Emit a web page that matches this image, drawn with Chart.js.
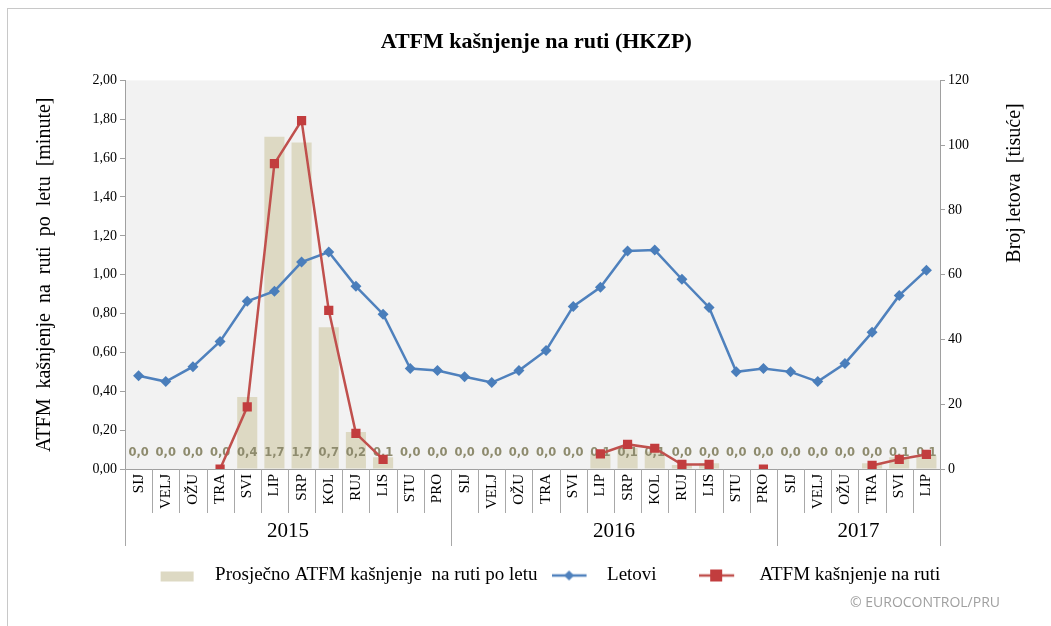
<!DOCTYPE html>
<html>
<head>
<meta charset="utf-8">
<script src="https://cdn.jsdelivr.net/npm/chart.js@4"></script>
<style>
  body { margin: 0; background: #fff; }
  #wrap { position: relative; width: 1051px; height: 626px; }
  #frame { position: absolute; left: 7px; top: 8px; right: 0; bottom: 0; border-left: 1px solid #c8c8c8; border-top: 1px solid #c8c8c8; pointer-events: none; }
</style>
</head>
<body>
<div id="wrap">
  <canvas id="chart" width="1051" height="626"></canvas>
  <div id="frame"></div>
</div>
<script>
const months = ['SIJ', 'VELJ', 'OŽU', 'TRA', 'SVI', 'LIP', 'SRP', 'KOL', 'RUJ', 'LIS', 'STU', 'PRO'];
const years = ['2015', '2016', '2017'];
const monthsPerYear = [12, 12, 6];

// average en-route ATFM delay per flight [minutes]
const avgDelay = [0, 0, 0, 0, 0.37, 1.71, 1.68, 0.73, 0.19, 0.06, 0, 0,
                  0, 0, 0, 0, 0, 0.08, 0.11, 0.09, 0.02, 0.03, 0, 0,
                  0, 0, 0, 0.03, 0.06, 0.07];
// flights [thousands]
const flights = [28.8, 27, 31.6, 39.4, 51.8, 54.9, 63.9, 67, 56.4, 47.8, 31, 30.4,
                 28.5, 26.7, 30.4, 36.6, 50.2, 56.1, 67.3, 67.6, 58.6, 49.9, 30, 31,
                 30, 27, 32.6, 42.2, 53.6, 61.4];
// en-route ATFM delay [thousand minutes]
const delay = [null, null, null, 0, 19.2, 94.3, 107.6, 49, 11, 3, null, null,
               null, null, null, null, null, 4.7, 7.6, 6.4, 1.4, 1.4, null, 0,
               null, null, null, 1.1, 3, 4.5];

const labels = [];
monthsPerYear.forEach((n, y) => { for (let i = 0; i < n; i++) labels.push(months[i]); });

const serif = 'Liberation Serif';
const barColor = '#ddd9c3';
const blue = '#4f81bd';
const red = '#c0504d';

function icon(kind) {
    const c = document.createElement('canvas');
    c.width = 46; c.height = 14;
    const g = c.getContext('2d');
    if (kind === 'bar') {
        g.fillStyle = barColor;
        g.fillRect(1, 3, 33, 10);
    } else if (kind === 'blue') {
        g.strokeStyle = blue; g.lineWidth = 2.5;
        g.beginPath(); g.moveTo(0, 7); g.lineTo(35, 7); g.stroke();
        g.fillStyle = blue;
        g.beginPath(); g.moveTo(17.5, 2); g.lineTo(22.5, 7); g.lineTo(17.5, 12); g.lineTo(12.5, 7); g.closePath(); g.fill();
    } else {
        g.strokeStyle = red; g.lineWidth = 2.5;
        g.beginPath(); g.moveTo(0, 7); g.lineTo(35, 7); g.stroke();
        g.fillStyle = '#c23d3e';
        g.fillRect(11, 1, 12, 12);
    }
    return c;
}

const plotBg = {
    id: 'plotBg',
    beforeDraw(chart) {
        const a = chart.chartArea, ctx = chart.ctx;
        ctx.save();
        ctx.fillStyle = '#f2f2f2';
        ctx.fillRect(a.left, a.top, a.right - a.left, a.bottom - a.top);
        ctx.restore();
    }
};

const barLabels = {
    id: 'barLabels',
    afterDatasetDraw(chart, args) {
        if (args.index !== 0) return;
        const ctx = chart.ctx, x = chart.scales.x, y = chart.scales.y;
        ctx.save();
        ctx.font = 'bold 11.5px "DejaVu Sans"';
        ctx.fillStyle = '#8e8b6e';
        ctx.textAlign = 'center';
        ctx.textBaseline = 'middle';
        avgDelay.forEach((v, i) => {
            ctx.fillText(v.toFixed(1).replace('.', ','), x.getPixelForValue(i), y.getPixelForValue(0) - 16);
        });
        ctx.restore();
    }
};

const extras = {
    id: 'extras',
    afterDraw(chart) {
        const ctx = chart.ctx, x = chart.scales.x, y = chart.scales.y;
        const step = x.getPixelForValue(1) - x.getPixelForValue(0);
        const y0 = x.top;
        const groupEdges = [0];
        monthsPerYear.forEach(n => groupEdges.push(groupEdges[groupEdges.length - 1] + n));
        ctx.save();
        ctx.strokeStyle = '#a8a8a8';
        ctx.lineWidth = 1;
        for (let i = 0; i <= labels.length; i++) {
            const px = Math.round(x.getPixelForValue(0) - step / 2 + i * step) + 0.5;
            const len = groupEdges.includes(i) ? 77 : 44;
            ctx.beginPath(); ctx.moveTo(px, y0); ctx.lineTo(px, y0 + len); ctx.stroke();
        }
        ctx.fillStyle = '#000';
        ctx.font = '21px "' + serif + '"';
        ctx.textAlign = 'center';
        ctx.textBaseline = 'middle';
        years.forEach((yr, k) => {
            const cx = x.getPixelForValue(0) - step / 2 + (groupEdges[k] + groupEdges[k + 1]) / 2 * step;
            ctx.fillText(yr, cx, y0 + 62);
        });
        // axis titles, both reading upward
        ctx.font = '20px "' + serif + '"';
        ctx.save();
        ctx.translate(45, (y.top + y.bottom) / 2);
        ctx.rotate(-Math.PI / 2);
        ctx.fillText('ATFM  kašnjenje  na  ruti  po  letu  [minute]', 0, 0);
        ctx.restore();
        ctx.save();
        ctx.translate(1015, 183);
        ctx.rotate(-Math.PI / 2);
        ctx.fillText('Broj letova  [tisuće]', 0, 0);
        ctx.restore();
        ctx.font = '14px "Open Sans"';
        ctx.fillStyle = '#a0a0a0';
        ctx.textAlign = 'right';
        ctx.fillText('© EUROCONTROL/PRU', 1000, 603);
        ctx.restore();
    }
};

new Chart(document.getElementById('chart').getContext('2d'), {
    type: 'bar',
    data: {
        labels: labels,
        datasets: [{
            type: 'bar',
            label: 'Prosječno ATFM kašnjenje  na ruti po letu',
            data: avgDelay,
            yAxisID: 'y',
            backgroundColor: barColor,
            barPercentage: 0.74,
            categoryPercentage: 1,
            order: 3
        }, {
            type: 'line',
            label: 'Letovi      ',
            data: flights,
            yAxisID: 'y1',
            borderColor: blue,
            backgroundColor: blue,
            borderWidth: 2.5,
            pointStyle: 'rectRot',
            pointRadius: 5.5,
            pointBackgroundColor: '#4a7ebb',
            pointBorderWidth: 0,
            tension: 0,
            order: 2
        }, {
            type: 'line',
            label: ' ATFM kašnjenje na ruti',
            data: delay,
            yAxisID: 'y1',
            borderColor: red,
            backgroundColor: red,
            borderWidth: 2.5,
            pointStyle: 'rect',
            pointRadius: 6.5,
            pointBackgroundColor: '#c23d3e',
            pointBorderWidth: 0,
            spanGaps: false,
            tension: 0,
            order: 1
        }]
    },
    options: {
        responsive: false,
        animation: false,
        layout: { padding: { left: 64, right: 15, top: 15, bottom: 31 } },
        plugins: {
            title: {
                display: true,
                text: 'ATFM kašnjenje na ruti (HKZP)     ',
                color: '#000',
                font: { family: serif, size: 22, weight: 'bold' },
                padding: { top: 14, bottom: 25 }
            },
            legend: {
                position: 'bottom',
                labels: {
                    usePointStyle: true,
                    pointStyleWidth: 46,
                    color: '#000',
                    font: { family: serif, size: 19 },
                    padding: 14,
                    generateLabels(chart) {
                        const kinds = ['bar', 'blue', 'red'];
                        return chart.data.datasets.map((ds, i) => ({
                            text: ds.label,
                            pointStyle: icon(kinds[i]),
                            fillStyle: 'transparent',
                            strokeStyle: 'transparent',
                            lineWidth: 0,
                            hidden: false,
                            datasetIndex: i
                        }));
                    }
                }
            },
            tooltip: { enabled: false }
        },
        scales: {
            x: {
                offset: true,
                grid: { display: false, drawTicks: false },
                border: { color: '#a0a0a0' },
                ticks: {
                    autoSkip: false,
                    minRotation: 90,
                    maxRotation: 90,
                    padding: 5,
                    color: '#000',
                    font: { family: serif, size: 15 }
                },
                afterFit(s) { s.height = 83; }
            },
            y: {
                position: 'left',
                min: 0,
                max: 2,
                ticks: {
                    stepSize: 0.2,
                    color: '#000',
                    font: { family: serif, size: 14 },
                    callback: v => v.toFixed(2).replace('.', ',')
                },
                grid: { drawOnChartArea: false, tickLength: 5, color: '#a0a0a0' },
                border: { color: '#a0a0a0' },
                afterFit(s) { s.width = 61; }
            },
            y1: {
                position: 'right',
                min: 0,
                max: 120,
                ticks: {
                    stepSize: 20,
                    color: '#000',
                    font: { family: serif, size: 14 }
                },
                grid: { drawOnChartArea: false, tickLength: 5, color: '#a0a0a0' },
                border: { color: '#a0a0a0' },
                afterFit(s) { s.width = 96; }
            }
        }
    },
    plugins: [plotBg, barLabels, extras]
});
</script>
</body>
</html>
